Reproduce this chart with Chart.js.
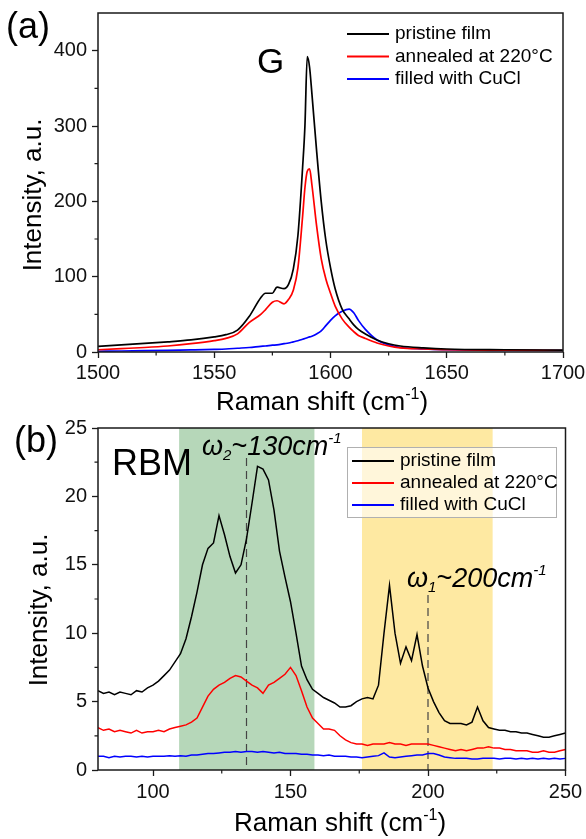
<!DOCTYPE html>
<html>
<head>
<meta charset="utf-8">
<script src="https://cdn.jsdelivr.net/npm/chart.js@4.4.0/dist/chart.umd.min.js"></script>
<style>
  body { margin: 0; background: #fff; width: 586px; height: 839px; position: relative; overflow: hidden; }
  .panel { position: absolute; left: 0; width: 586px; }
  #topWrap { top: 0; height: 420px; }
  #bottomWrap { top: 400px; height: 439px; }
</style>
</head>
<body>
<div class="panel" id="topWrap"><canvas id="gChart"></canvas></div>
<div class="panel" id="bottomWrap"><canvas id="rbmChart"></canvas></div>
<script>
// ---- data: (a) G band ----
const gShift = [1500, 1510, 1520, 1530, 1540, 1550, 1555, 1560, 1565, 1570, 1572, 1575, 1577, 1580, 1582, 1584,
  1586, 1588, 1589, 1590, 1591, 1592, 1594, 1596, 1598, 1600, 1602, 1605, 1608, 1610, 1612, 1615, 1620, 1625,
  1630, 1640, 1650, 1675, 1700];
const gPristine = [7.5, 9.5, 11.5, 13.5, 16, 20, 23, 29, 47, 72, 78, 78, 86, 84, 90, 110,
  155, 245, 300, 392, 378, 343, 268, 200, 148, 112, 84, 57, 44, 36, 30, 24, 16, 11,
  8, 5.5, 4, 3, 2.5];
const gAnnealed = [3, 4.5, 6, 8, 11, 15, 18, 24, 39, 50, 56, 66, 68, 64, 70, 82,
  112, 180, 218, 240, 243, 222, 168, 124, 97, 78, 61, 44, 33, 27, 22, 18, 12, 8,
  5.5, 4, 3, 2.5, 2];
const gCuCl = [1, 1.3, 1.7, 2.2, 2.8, 3.5, 4, 5, 6, 7.5, 8, 9, 9.5, 11, 12, 13.5,
  15, 17, 18, 19, 20, 21, 24, 28, 35, 42, 48, 54, 57, 52, 42, 30, 16, 9.5,
  6, 4, 3, 2, 2];

// ---- data: (b) RBM ----
const rbmShift = [80, 82, 84, 86, 88, 90, 92, 94, 96, 98, 100, 102, 104, 106, 108, 110, 112, 114, 116, 118,
  120, 122, 124, 126, 128, 130, 132, 134, 136, 138, 140, 142, 144, 146, 148, 150, 152, 154, 156, 158,
  160, 162, 164, 166, 168, 170, 172, 174, 176, 178, 180, 182, 184, 186, 188, 190, 192, 194, 196, 198,
  200, 202, 204, 206, 208, 210, 212, 214, 216, 218, 220, 222, 224, 226, 228, 230, 232, 234, 236, 238,
  240, 242, 244, 246, 248, 250];
const rbmPristine = [5.8, 5.6, 5.7, 5.5, 5.7, 5.6, 5.5, 5.8, 5.7, 6.0, 6.2, 6.5, 6.9, 7.3, 7.9, 8.5, 9.6, 11.2, 13.0, 15.0,
  16.2, 16.6, 18.6, 17.2, 15.6, 14.4, 15.0, 16.9, 19.5, 22.2, 22.0, 21.2, 19.0, 16.0, 14.1, 12.3, 10.0, 7.6, 6.6, 5.9,
  5.6, 5.3, 5.1, 4.9, 4.6, 4.6, 4.7, 5.0, 5.2, 5.3, 5.2, 6.2, 10.0, 13.5, 10.0, 7.8, 9.0, 8.0, 9.9, 7.6,
  6.0, 5.0, 4.2, 3.6, 3.4, 3.4, 3.4, 3.3, 3.5, 4.6, 3.6, 3.1, 3.0, 2.9, 2.9, 2.8, 2.8, 2.7, 2.7, 2.6,
  2.5, 2.4, 2.4, 2.5, 2.6, 2.7];
const rbmAnnealed = [3.1, 2.9, 3.0, 2.8, 2.9, 2.8, 2.7, 2.9, 2.7, 2.8, 2.8, 2.9, 2.8, 3.0, 3.1, 3.2, 3.3, 3.5, 3.8, 4.6,
  5.4, 5.9, 6.2, 6.4, 6.7, 6.9, 6.8, 6.5, 6.2, 6.0, 5.6, 6.2, 6.4, 6.7, 7.0, 7.5, 6.9, 5.8, 4.6, 3.8,
  3.4, 3.0, 3.0, 2.9, 2.5, 2.2, 2.0, 1.9, 1.9, 1.8, 1.9, 1.9, 1.9, 2.0, 1.9, 1.9, 1.8, 1.9, 1.9, 1.9,
  1.9, 1.8, 1.7, 1.6, 1.5, 1.4, 1.5, 1.4, 1.5, 1.6, 1.6, 1.7, 1.6, 1.6, 1.5, 1.5, 1.4, 1.4, 1.4, 1.3,
  1.3, 1.4, 1.3, 1.3, 1.4, 1.5];
const rbmCuCl = [1.0, 1.0, 0.9, 1.0, 0.95, 1.0, 1.0, 0.95, 1.0, 0.95, 1.0, 1.0, 1.0, 1.05, 1.0, 1.05, 1.0, 1.1, 1.1, 1.15,
  1.2, 1.2, 1.25, 1.3, 1.3, 1.35, 1.3, 1.35, 1.35, 1.3, 1.35, 1.3, 1.25, 1.3, 1.2, 1.2, 1.2, 1.15, 1.15, 1.1,
  1.1, 1.05, 1.1, 1.0, 1.0, 1.0, 0.95, 0.95, 0.9, 0.95, 1.0, 1.05, 1.25, 0.95, 0.9, 0.95, 1.0, 1.05, 1.1, 1.1,
  1.2, 1.2, 1.1, 0.95, 0.9, 0.85, 0.85, 0.85, 0.8, 0.8, 0.85, 0.85, 0.85, 0.8, 0.85, 0.85, 0.8, 0.85, 0.8, 0.85,
  0.8, 0.85, 0.8, 0.85, 0.8, 0.85];

// ---- labels, ticks, marks ----
const seriesLabels = ['pristine film', 'annealed at 220°C', 'filled with CuCl'];
const seriesColors = ['#000000', '#ff0000', '#0000ff'];

const gXTicks = [1500, 1550, 1600, 1650, 1700];
const gXMinor = [1525, 1575, 1625, 1675];
const gYTicks = [0, 100, 200, 300, 400];
const gYMinor = [50, 150, 250, 350];

const rbmXTicks = [100, 150, 200, 250];
const rbmXMinor = [125, 175, 225];
const rbmYTicks = [0, 5, 10, 15, 20, 25];
const rbmYMinor = [2.5, 7.5, 12.5, 17.5, 22.5];

const rbmBandFrom = [109.5, 176];
const rbmBandTo = [158.7, 223.5];
const rbmBandColors = ['#b6d7b9', '#fee9a2'];
const dashX = [134, 200];
const dashTop = [22.8, 12.8];

const FONT = "'Liberation Sans', Arial, Helvetica, sans-serif";
const INK = '#1a1a1a';

function toPoints(xs, ys) {
    return xs.map((x, i) => ({ x: x, y: ys[i] }));
}

// draws a run of text pieces, some raised or lowered, starting at x
function drawRich(ctx, parts, x, y, align) {
    let total = 0;
    parts.forEach(p => {
        ctx.font = (p.italic ? 'italic ' : '') + p.size + 'px ' + FONT;
        p.w = ctx.measureText(p.t).width;
        total += p.w;
    });
    let cx = align === 'center' ? x - total / 2 : x;
    parts.forEach(p => {
        ctx.font = (p.italic ? 'italic ' : '') + p.size + 'px ' + FONT;
        ctx.fillText(p.t, cx, y + (p.dy || 0));
        cx += p.w;
    });
}

const decorPlugin = {
    id: 'decor',
    beforeDatasetsDraw(chart, args, opts) {
        const { ctx, chartArea: a, scales: { x, y } } = chart;
        ctx.save();
        (opts.bandFrom || []).forEach((from, i) => {
            const x1 = x.getPixelForValue(from);
            const x2 = x.getPixelForValue(opts.bandTo[i]);
            ctx.fillStyle = opts.bandColors[i];
            ctx.fillRect(x1, a.top, x2 - x1, a.bottom - a.top);
        });
        ctx.strokeStyle = '#444';
        ctx.lineWidth = 1.2;
        ctx.setLineDash([8, 5]);
        (opts.dashX || []).forEach((dx, i) => {
            const px = x.getPixelForValue(dx);
            ctx.beginPath();
            ctx.moveTo(px, y.getPixelForValue(opts.dashTop[i]));
            ctx.lineTo(px, a.bottom);
            ctx.stroke();
        });
        ctx.restore();
    },
    afterDatasetsDraw(chart, args, opts) {
        const { ctx, chartArea: a, scales: { x, y } } = chart;
        ctx.save();
        // frame
        ctx.strokeStyle = INK;
        ctx.lineWidth = 1.5;
        ctx.strokeRect(a.left, a.top, a.right - a.left, a.bottom - a.top);
        // minor ticks
        ctx.lineWidth = 1.2;
        ctx.beginPath();
        opts.xMinor.forEach(v => {
            const px = x.getPixelForValue(v);
            ctx.moveTo(px, a.bottom);
            ctx.lineTo(px, a.bottom + 3.5);
        });
        opts.yMinor.forEach(v => {
            const py = y.getPixelForValue(v);
            ctx.moveTo(a.left, py);
            ctx.lineTo(a.left - 3.5, py);
        });
        ctx.stroke();

        ctx.fillStyle = '#000';
        ctx.textBaseline = 'alphabetic';
        ctx.textAlign = 'left';

        // x title with superscript
        drawRich(ctx, [
            { t: 'Raman shift (cm', size: 26 },
            { t: '-1', size: 16, dy: -11 },
            { t: ')', size: 26 }
        ], opts.xTitle.x, opts.xTitle.y, 'center');

        // y title
        ctx.save();
        ctx.translate(opts.yTitle.x, opts.yTitle.y);
        ctx.rotate(-Math.PI / 2);
        ctx.font = '26px ' + FONT;
        ctx.textAlign = 'center';
        ctx.fillText('Intensity, a.u.', 0, 0);
        ctx.restore();

        // panel letter and peak name
        ctx.font = '36px ' + FONT;
        ctx.fillText(opts.panel.t, opts.panel.x, opts.panel.y);
        ctx.font = opts.peak.size + 'px ' + FONT;
        ctx.fillText(opts.peak.t, opts.peak.x, opts.peak.y);

        // omega annotations
        (opts.omegas || []).forEach(o => {
            drawRich(ctx, [
                { t: 'ω', size: 27, italic: true },
                { t: o.sub, size: 15, italic: true, dy: 5 },
                { t: '~' + o.val + 'cm', size: 27, italic: true },
                { t: '-1', size: 15, italic: true, dy: -12 }
            ], o.x, o.y, 'left');
        });

        // legend
        const L = opts.legend;
        if (L.box) {
            ctx.fillStyle = 'rgba(255,255,255,0.6)';
            ctx.fillRect(L.box[0], L.box[1], L.box[2], L.box[3]);
            ctx.strokeStyle = '#b0b0b0';
            ctx.lineWidth = 1;
            ctx.strokeRect(L.box[0] + 0.5, L.box[1] + 0.5, L.box[2], L.box[3]);
        }
        chart.data.datasets.forEach((ds, i) => {
            const ly = L.y + i * L.gap;
            ctx.strokeStyle = ds.borderColor;
            ctx.lineWidth = 2;
            ctx.beginPath();
            ctx.moveTo(L.x, ly);
            ctx.lineTo(L.x + 42, ly);
            ctx.stroke();
            ctx.fillStyle = '#000';
            ctx.font = '19px ' + FONT;
            ctx.textBaseline = 'middle';
            ctx.fillText(ds.label, L.x + 48, ly);
        });
        ctx.restore();
    }
};

function makeChart(canvasId, xs, series, cfg) {
    return new Chart(document.getElementById(canvasId), {
        type: 'line',
        data: {
            datasets: series.map((ys, i) => ({
                label: seriesLabels[i],
                data: toPoints(xs, ys),
                borderColor: seriesColors[i],
                borderWidth: cfg.lineWidth,
                pointRadius: 0,
                cubicInterpolationMode: cfg.smooth ? 'monotone' : 'default',
                tension: 0,
                fill: false
            }))
        },
        options: {
            responsive: true,
            maintainAspectRatio: false,
            animation: false,
            events: [],
            layout: { padding: { top: cfg.padTop, right: cfg.padRight, left: 0, bottom: 0 } },
            plugins: {
                legend: { display: false },
                tooltip: { enabled: false },
                decor: cfg.decor
            },
            scales: {
                x: {
                    type: 'linear',
                    min: cfg.xMin,
                    max: cfg.xMax,
                    afterBuildTicks: s => { s.ticks = cfg.xTicks.map(v => ({ value: v })); },
                    afterFit: s => { s.height = cfg.xAxisHeight; s.paddingLeft = 0; s.paddingRight = 0; },
                    ticks: {
                        autoSkip: false,
                        maxRotation: 0,
                        padding: cfg.xTickPad,
                        color: '#111',
                        font: { family: FONT, size: 20 },
                        callback: v => String(v)
                    },
                    grid: { drawOnChartArea: false, tickLength: 6, tickWidth: 1.3, tickColor: INK },
                    border: { display: false }
                },
                y: {
                    type: 'linear',
                    min: cfg.yMin,
                    max: cfg.yMax,
                    afterBuildTicks: s => { s.ticks = cfg.yTicks.map(v => ({ value: v })); },
                    afterFit: s => { s.width = 98; s.paddingTop = 0; s.paddingBottom = 0; },
                    ticks: {
                        padding: 5,
                        color: '#111',
                        font: { family: FONT, size: 20 },
                        callback: v => String(v)
                    },
                    grid: { drawOnChartArea: false, tickLength: 6, tickWidth: 1.3, tickColor: INK },
                    border: { display: false }
                }
            }
        },
        plugins: [decorPlugin]
    });
}

makeChart('gChart', gShift, [gPristine, gAnnealed, gCuCl], {
    lineWidth: 1.7, smooth: true,
    padTop: 13, padRight: 23, xAxisHeight: 68, xTickPad: 3,
    xMin: 1500, xMax: 1700, yMin: 0, yMax: 450,
    xTicks: gXTicks, yTicks: gYTicks,
    decor: {
        xMinor: gXMinor, yMinor: gYMinor,
        xTitle: { x: 322, y: 410 },
        yTitle: { x: 41, y: 195 },
        panel: { t: '(a)', x: 6, y: 38 },
        peak: { t: 'G', x: 257, y: 73, size: 35 },
        legend: { x: 347, y: 34, gap: 22.5 }
    }
});

makeChart('rbmChart', rbmShift, [rbmPristine, rbmAnnealed, rbmCuCl], {
    lineWidth: 1.5, smooth: false,
    padTop: 28, padRight: 20.5, xAxisHeight: 69, xTickPad: 4,
    xMin: 80, xMax: 250, yMin: 0, yMax: 25,
    xTicks: rbmXTicks, yTicks: rbmYTicks,
    decor: {
        xMinor: rbmXMinor, yMinor: rbmYMinor,
        bandFrom: rbmBandFrom, bandTo: rbmBandTo, bandColors: rbmBandColors,
        dashX: dashX, dashTop: dashTop,
        xTitle: { x: 340, y: 431 },
        yTitle: { x: 47, y: 210 },
        panel: { t: '(b)', x: 14, y: 52 },
        peak: { t: 'RBM', x: 112, y: 75, size: 36 },
        omegas: [
            { sub: '2', val: '130', x: 202, y: 55 },
            { sub: '1', val: '200', x: 407, y: 187 }
        ],
        legend: { x: 352, y: 61, gap: 22, box: [347, 47, 209, 70] }
    }
});
</script>
</body>
</html>
